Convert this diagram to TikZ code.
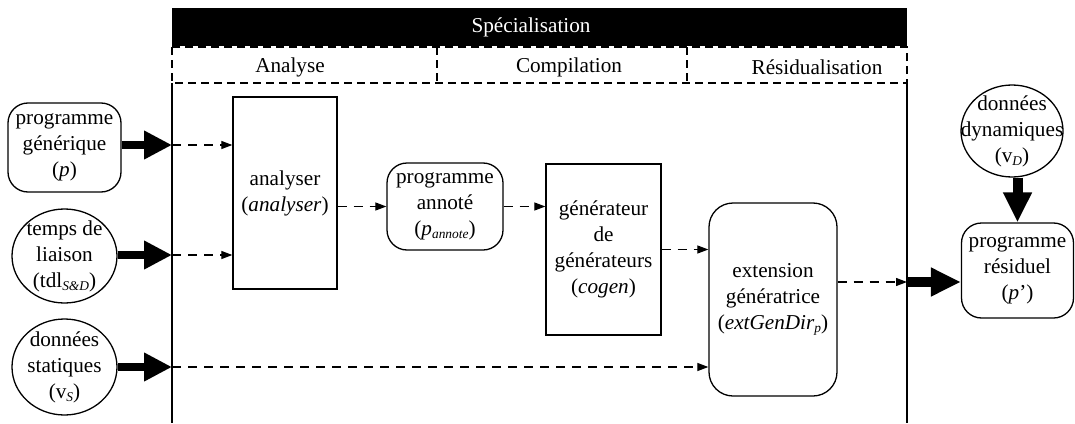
\documentclass[tikz,border=0pt]{standalone}
\usepackage{fontspec}
\setmainfont{Liberation Serif}
\usetikzlibrary{arrows.meta,shapes.geometric}
\newcommand\mysub[1]{\raisebox{-0.3ex}{\fontsize{6.7pt}{7pt}\selectfont\itshape #1}}
\begin{document}
\begin{tikzpicture}[x=0.5pt,y=-0.5pt,
  every node/.style={font=\fontsize{10.6pt}{13pt}\selectfont, align=center, inner sep=0pt},
  rbox/.style={draw, line width=0.65pt, rounded corners=10pt},
  sbox/.style={draw, line width=0.65pt},
  ell/.style={draw, ellipse, line width=0.65pt},
  darr/.style={line width=0.6pt, dash pattern=on 4.5pt off 3.5pt, -{Triangle[length=5.5pt,width=4pt]}},
  tarr/.style={line width=4pt, -{Triangle[length=14pt,width=13.5pt]}},
  tarrb/.style={line width=5pt, -{Triangle[length=15pt,width=13.5pt]}},
  rowline/.style={line width=0.6pt, dash pattern=on 4pt off 2.5pt},
]
\useasboundingbox (0,0) rectangle (1075,423);
% frame
\fill[black] (172,8) rectangle (907,46);
\node[text=white] (spec) at (531,27) {Spécialisation};
\draw[rowline] (172,47) rectangle (907,83);
\draw[rowline] (437,47) -- (437,83);
\draw[rowline] (687,47) -- (687,83);
\node (lana) at (290,67) {Analyse};
\node (lcomp) at (569,67) {Compilation};
\node (lres) at (817,67) {Résidualisation};
\draw[line width=0.65pt] (172,83) -- (172,423);
\draw[line width=0.65pt] (907,83) -- (907,423);
% nodes
\node[rbox, minimum width=56.5pt, minimum height=44.5pt] (pg) at (64.5,147.5) {programme\\générique\\(\textit{p})};
\node[ell, minimum width=52.5pt, minimum height=47pt, label={[align=center]center:temps de\\liaison\\(tdl\mysub{S\&D})}] (tdl) at (64.5,256) {};
\node[ell, minimum width=52.5pt, minimum height=48pt, label={[align=center]center:données\\statiques\\(v\mysub{S})}] (vs) at (64.5,367) {};
\node[sbox, minimum width=52pt, minimum height=96pt] (ana) at (285,193) {analyser\\(\textit{analyser})};
\node[rbox, minimum width=58pt, minimum height=43.5pt] (pann) at (445,206.5) {programme\\annoté\\(\textit{p}\mysub{annote})};
\node[sbox, minimum width=57.5pt, minimum height=85.5pt] (gen) at (603.5,249.5) {générateur\\de\\générateurs\\(\textit{cogen})};
\node[rbox, rounded corners=12pt, minimum width=64pt, minimum height=96.5pt] (ext) at (773,299.5) {extension\\génératrice\\(\textit{extGenDir}\mysub{p})};
\node[rbox, minimum width=56pt, minimum height=47.5pt] (res) at (1017.5,270.5) {programme\\résiduel\\(\textit{p}’)};
\node[ell, minimum width=51pt, minimum height=46pt, label={[align=center]center:données\\dynamiques\\(v\mysub{D})}] (dyn) at (1012,131) {};
% coordinates on the frame
\coordinate (fin1) at (172,145);
\coordinate (fin2) at (172,255);
\coordinate (fin3) at (172,367);
\coordinate (fout) at (907,282);
% connectors
\draw[tarr] (pg.east |- fin1) -- (fin1);
\draw[tarr] (tdl.east |- fin2) -- (fin2);
\draw[tarr] (vs.east |- fin3) -- (fin3);
\draw[darr] (fin1) -- (ana.west |- fin1);
\draw[darr] (fin2) -- (ana.west |- fin2);
\draw[darr] (fin3) -- (ext.west |- fin3);
\draw[darr] (ana.east |- pann.west) -- (pann.west);
\draw[darr] (pann.east) -- (gen.west |- pann.east);
\draw[darr] (gen.east) -- (ext.west |- gen.east);
\draw[darr] (ext.east |- fout) -- (fout);
\draw[tarrb] (fout) -- (res.west |- fout);
\draw[tarrb] (res.north |- dyn.south) -- (res.north);
\end{tikzpicture}
\end{document}
